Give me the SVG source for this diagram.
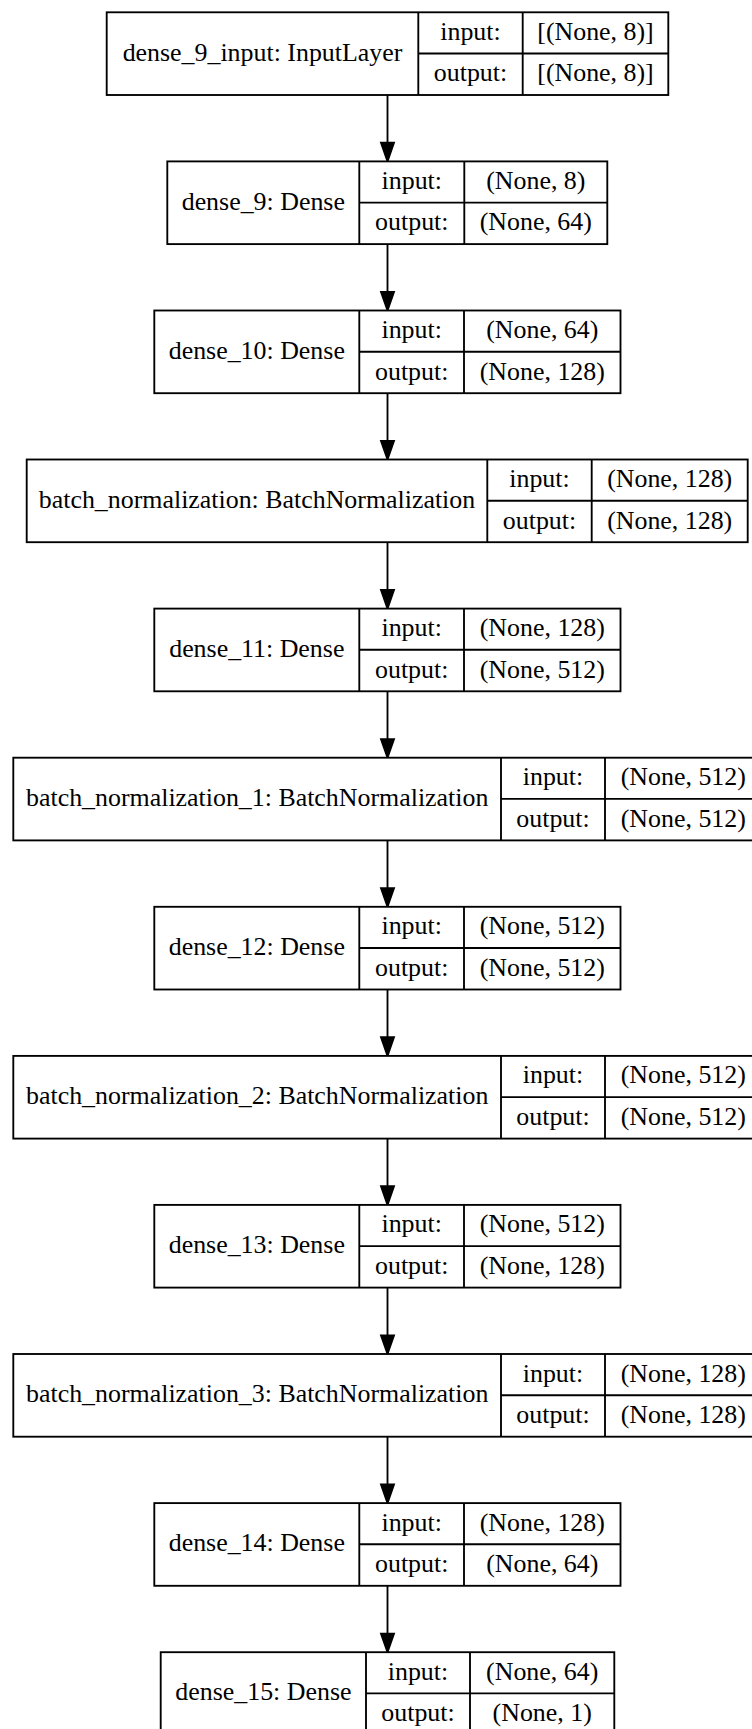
<svg xmlns="http://www.w3.org/2000/svg" width="752" height="1729" viewBox="0 0 752 1729">
<style>
rect{fill:#fff;stroke:#000;stroke-width:1.86}
.d{fill:none;stroke:#000;stroke-width:1.86}
text{font-family:"Liberation Serif","Times New Roman",serif;font-size:25.9px;text-anchor:middle;fill:#000}
.e{stroke:#000;stroke-width:1.86;fill:none}
</style>
<defs>
<marker id="ah" markerUnits="userSpaceOnUse" markerWidth="20" markerHeight="14" refX="0" refY="6.5" orient="auto" overflow="visible">
<path d="M0,0L18.6,6.5L0,13z" fill="#000" stroke="#000" stroke-width="1.86"/>
</marker>
</defs>
<rect x="0" y="0" width="752" height="1729" style="fill:#fff;stroke:none"/>
<g id="edges">
<path class="e" marker-end="url(#ah)" d="M387.5,95V142.8"/>
<path class="e" marker-end="url(#ah)" d="M387.5,244.1V291.9"/>
<path class="e" marker-end="url(#ah)" d="M387.5,393.2V440.9"/>
<path class="e" marker-end="url(#ah)" d="M387.5,542.2V590"/>
<path class="e" marker-end="url(#ah)" d="M387.5,691.3V739.1"/>
<path class="e" marker-end="url(#ah)" d="M387.5,840.4V888.2"/>
<path class="e" marker-end="url(#ah)" d="M387.5,989.5V1037.3"/>
<path class="e" marker-end="url(#ah)" d="M387.5,1138.6V1186.3"/>
<path class="e" marker-end="url(#ah)" d="M387.5,1287.6V1335.4"/>
<path class="e" marker-end="url(#ah)" d="M387.5,1436.7V1484.5"/>
<path class="e" marker-end="url(#ah)" d="M387.5,1585.8V1633.6"/>
</g>
<g id="dense_9_input" transform="translate(0,12.3)">
<rect x="106.7" y="0" width="561.6" height="82.7"/>
<path class="d" d="M418.3,0V82.7M522.7,0V82.7M418.3,41.2H668.3"/>
<text x="262.5" y="48.3">dense_9_input: InputLayer</text>
<text x="470.5" y="27.6">input:</text><text x="470.5" y="69">output:</text>
<text x="595.5" y="27.6">[(None, 8)]</text><text x="595.5" y="69">[(None, 8)]</text>
</g>
<g id="dense_9" transform="translate(0,161.4)">
<rect x="167.3" y="0" width="440" height="82.7"/>
<path class="d" d="M359.3,0V82.7M464.3,0V82.7M359.3,41.2H607.3"/>
<text x="263.3" y="48.3">dense_9: Dense</text>
<text x="411.8" y="27.6">input:</text><text x="411.8" y="69">output:</text>
<text x="535.8" y="27.6">(None, 8)</text><text x="535.8" y="69">(None, 64)</text>
</g>
<g id="dense_10" transform="translate(0,310.5)">
<rect x="154.3" y="0" width="466.2" height="82.7"/>
<path class="d" d="M359.3,0V82.7M464,0V82.7M359.3,41.2H620.5"/>
<text x="256.8" y="48.3">dense_10: Dense</text>
<text x="411.7" y="27.6">input:</text><text x="411.7" y="69">output:</text>
<text x="542.3" y="27.6">(None, 64)</text><text x="542.3" y="69">(None, 128)</text>
</g>
<g id="batch_normalization" transform="translate(0,459.5)">
<rect x="26.7" y="0" width="721" height="82.7"/>
<path class="d" d="M487.3,0V82.7M591.7,0V82.7M487.3,41.2H747.7"/>
<text x="257" y="48.3">batch_normalization: BatchNormalization</text>
<text x="539.5" y="27.6">input:</text><text x="539.5" y="69">output:</text>
<text x="669.7" y="27.6">(None, 128)</text><text x="669.7" y="69">(None, 128)</text>
</g>
<g id="dense_11" transform="translate(0,608.6)">
<rect x="154.3" y="0" width="466.2" height="82.7"/>
<path class="d" d="M359.3,0V82.7M464,0V82.7M359.3,41.2H620.5"/>
<text x="256.8" y="48.3">dense_11: Dense</text>
<text x="411.7" y="27.6">input:</text><text x="411.7" y="69">output:</text>
<text x="542.3" y="27.6">(None, 128)</text><text x="542.3" y="69">(None, 512)</text>
</g>
<g id="batch_normalization_1" transform="translate(0,757.7)">
<rect x="13.3" y="0" width="748.2" height="82.7"/>
<path class="d" d="M501,0V82.7M605,0V82.7M501,41.2H761.5"/>
<text x="257.2" y="48.3">batch_normalization_1: BatchNormalization</text>
<text x="553" y="27.6">input:</text><text x="553" y="69">output:</text>
<text x="683.3" y="27.6">(None, 512)</text><text x="683.3" y="69">(None, 512)</text>
</g>
<g id="dense_12" transform="translate(0,906.8)">
<rect x="154.3" y="0" width="466.2" height="82.7"/>
<path class="d" d="M359.3,0V82.7M464,0V82.7M359.3,41.2H620.5"/>
<text x="256.8" y="48.3">dense_12: Dense</text>
<text x="411.7" y="27.6">input:</text><text x="411.7" y="69">output:</text>
<text x="542.3" y="27.6">(None, 512)</text><text x="542.3" y="69">(None, 512)</text>
</g>
<g id="batch_normalization_2" transform="translate(0,1055.9)">
<rect x="13.3" y="0" width="748.2" height="82.7"/>
<path class="d" d="M501,0V82.7M605,0V82.7M501,41.2H761.5"/>
<text x="257.2" y="48.3">batch_normalization_2: BatchNormalization</text>
<text x="553" y="27.6">input:</text><text x="553" y="69">output:</text>
<text x="683.3" y="27.6">(None, 512)</text><text x="683.3" y="69">(None, 512)</text>
</g>
<g id="dense_13" transform="translate(0,1204.9)">
<rect x="154.3" y="0" width="466.2" height="82.7"/>
<path class="d" d="M359.3,0V82.7M464,0V82.7M359.3,41.2H620.5"/>
<text x="256.8" y="48.3">dense_13: Dense</text>
<text x="411.7" y="27.6">input:</text><text x="411.7" y="69">output:</text>
<text x="542.3" y="27.6">(None, 512)</text><text x="542.3" y="69">(None, 128)</text>
</g>
<g id="batch_normalization_3" transform="translate(0,1354)">
<rect x="13.3" y="0" width="748.2" height="82.7"/>
<path class="d" d="M501,0V82.7M605,0V82.7M501,41.2H761.5"/>
<text x="257.2" y="48.3">batch_normalization_3: BatchNormalization</text>
<text x="553" y="27.6">input:</text><text x="553" y="69">output:</text>
<text x="683.3" y="27.6">(None, 128)</text><text x="683.3" y="69">(None, 128)</text>
</g>
<g id="dense_14" transform="translate(0,1503.1)">
<rect x="154.3" y="0" width="466.2" height="82.7"/>
<path class="d" d="M359.3,0V82.7M464,0V82.7M359.3,41.2H620.5"/>
<text x="256.8" y="48.3">dense_14: Dense</text>
<text x="411.7" y="27.6">input:</text><text x="411.7" y="69">output:</text>
<text x="542.3" y="27.6">(None, 128)</text><text x="542.3" y="69">(None, 64)</text>
</g>
<g id="dense_15" transform="translate(0,1652.2)">
<rect x="160.7" y="0" width="453.6" height="82.7"/>
<path class="d" d="M366,0V82.7M470,0V82.7M366,41.2H614.3"/>
<text x="263.4" y="48.3">dense_15: Dense</text>
<text x="418" y="27.6">input:</text><text x="418" y="69">output:</text>
<text x="542.2" y="27.6">(None, 64)</text><text x="542.2" y="69">(None, 1)</text>
</g>
</svg>
